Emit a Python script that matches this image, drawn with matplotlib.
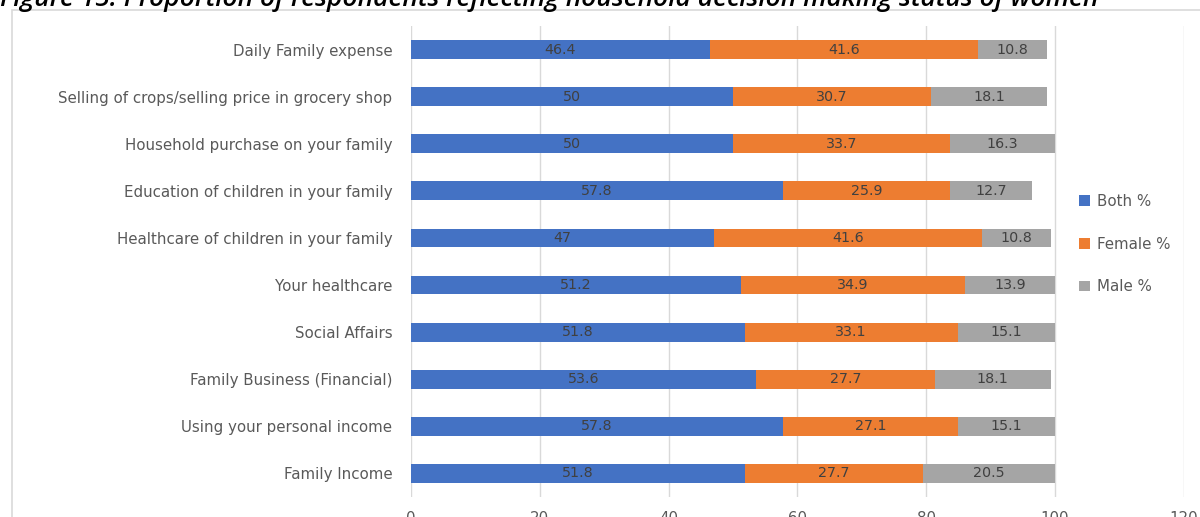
import matplotlib
matplotlib.use("Agg")
from matplotlib import pyplot as plt
from matplotlib.patches import Rectangle

plt.rcParams['font.family'] = ['DejaVu Sans']

# decision areas, bottom to top as drawn
categories = [
    "Family Income",
    "Using your personal income",
    "Family Business (Financial)",
    "Social Affairs",
    "Your healthcare",
    "Healthcare of children in your family",
    "Education of children in your family",
    "Household purchase on your family",
    "Selling of crops/selling price in grocery shop",
    "Daily Family expense",
]
both = [51.8, 57.8, 53.6, 51.8, 51.2, 47, 57.8, 50, 50, 46.4]
female = [27.7, 27.1, 27.7, 33.1, 34.9, 41.6, 25.9, 33.7, 30.7, 41.6]
male = [20.5, 15.1, 18.1, 15.1, 13.9, 10.8, 12.7, 16.3, 18.1, 10.8]
xticks = [0, 20, 40, 60, 80, 100, 120]

series = [("Both %", both, "#4472C4"),
          ("Female %", female, "#ED7D31"),
          ("Male %", male, "#A5A5A5")]

fig = plt.figure(figsize=(12, 5.17), dpi=100)
ax = fig.add_axes([0.3425, 0.0387, 0.644, 0.911])

# chart frame
fig.patches.append(Rectangle((12 / 1200, -0.1), 1.2, 1 - 10 / 517 + 0.1,
                             transform=fig.transFigure, fill=False,
                             edgecolor="#D9D9D9", linewidth=1.2))

ypos = list(range(len(categories)))
left = [0] * len(categories)
handles = []
for name, vals, col in series:
    bars = ax.barh(ypos, vals, left=left, height=0.4, color=col, label=name, zorder=3)
    handles.append(bars)
    for y, l, v in zip(ypos, left, vals):
        ax.text(l + v / 2, y, f"{v:g}", ha="center", va="center",
                fontsize=10.3, color="#404040", zorder=4)
    left = [a + b for a, b in zip(left, vals)]

ax.set_xlim(0, 120)
ax.set_ylim(-0.5, len(categories) - 0.5)
ax.set_xticks(xticks)
ax.set_yticks(ypos)
ax.set_yticklabels(categories)
ax.xaxis.grid(True, color="#D9D9D9", linewidth=1, zorder=0)
ax.tick_params(axis="both", length=0, labelsize=10.8, labelcolor="#595959")
ax.tick_params(axis="y", pad=13.5)
ax.tick_params(axis="x", pad=10)
for s in ax.spines.values():
    s.set_visible(False)

leg = ax.legend(handles=handles, loc="center left", bbox_to_anchor=(0.855, 0.537),
                frameon=False, fontsize=10.8, labelcolor="#595959",
                handlelength=0.7, handleheight=0.7, labelspacing=1.85,
                handletextpad=0.5, borderpad=0)

fig.text(0.0, 1.0, "Figure 15: Proportion of respondents reflecting household decision making status of women",
         fontsize=19, style="italic", fontweight="semibold", color="#000000",
         family="Open Sans", ha="left", va="center")

fig.savefig("out.png", dpi=100)
